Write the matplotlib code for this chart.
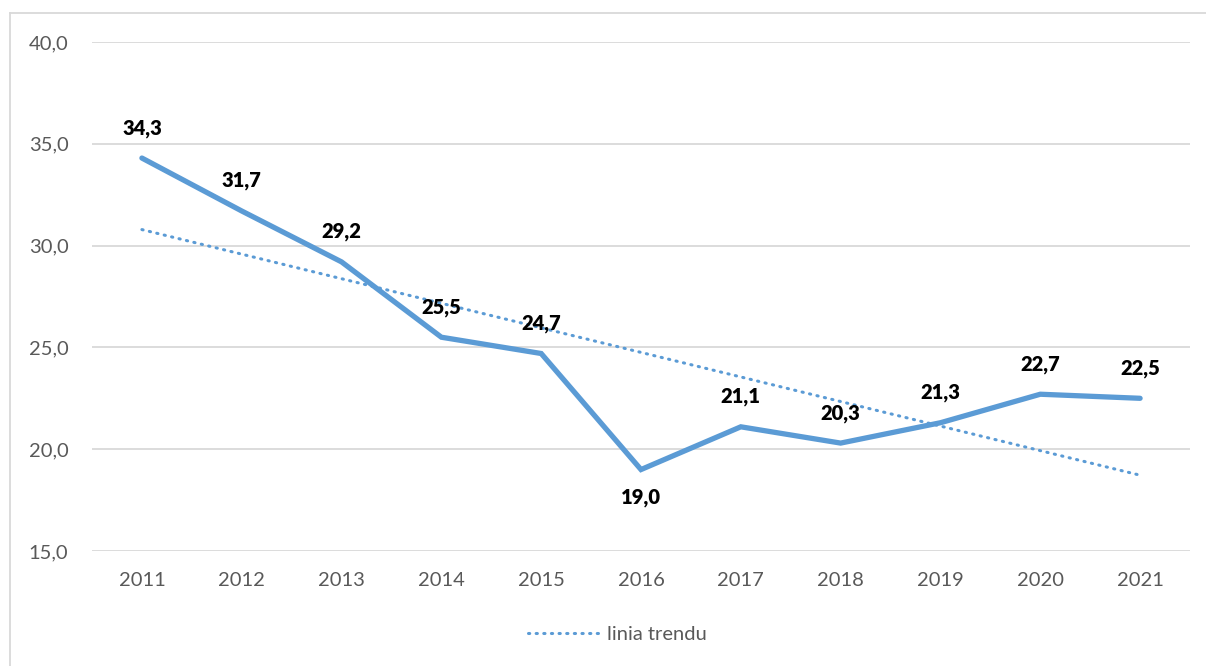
import numpy as np
import matplotlib
matplotlib.use("Agg")
import matplotlib.pyplot as plt
from matplotlib.lines import Line2D

plt.rcParams['font.family'] = ['Lato', 'DejaVu Sans']

years = [2011, 2012, 2013, 2014, 2015, 2016, 2017, 2018, 2019, 2020, 2021]
values = [34.3, 31.7, 29.2, 25.5, 24.7, 19.0, 21.1, 20.3, 21.3, 22.7, 22.5]
y_ticks = [15, 20, 25, 30, 35, 40]

line_color = '#5B9BD5'
grid_color = '#D9D9D9'
text_gray = '#595959'
dot_style = (0, (0.4, 2.1))

fig = plt.figure(figsize=(12.06, 6.66), dpi=100)
ax = fig.add_axes([92 / 1206, 1 - 551 / 666, (1190 - 92) / 1206, (551 - 42) / 666])

x = np.array(years)
y = np.array(values)

ax.plot(x, y, color=line_color, lw=3.8, solid_capstyle='round', solid_joinstyle='miter', zorder=3)

# linear trend fitted to the series
coef = np.polyfit(x, y, 1)
trend = np.polyval(coef, x)
ax.plot(x, trend, color=line_color, lw=2.2, linestyle=dot_style, dash_capstyle='round', zorder=2)

# value labels
for xi, yi in zip(x, y):
    below = yi == min(values)
    off = -28 if below else 30
    ax.annotate(f"{yi:.1f}".replace('.', ','), (xi, yi), xytext=(0, off * 0.72),
                textcoords='offset points', ha='center', va='center',
                fontsize=14.5, fontweight='heavy', color='black', zorder=4)

ax.set_xlim(2010.5, 2021.5)
ax.set_ylim(15, 40)
ax.set_xticks(years)
ax.set_xticklabels([str(v) for v in years])
ax.set_yticks(y_ticks)
ax.set_yticklabels([f"{v:.1f}".replace('.', ',') for v in y_ticks])
ax.tick_params(axis='both', length=0, labelsize=14.5, labelcolor=text_gray)
ax.tick_params(axis='y', pad=17)
ax.tick_params(axis='x', pad=15)
ax.grid(axis='y', color=grid_color, lw=1.3)
ax.set_axisbelow(True)
for s in ax.spines.values():
    s.set_visible(False)

handle = Line2D([], [], color=line_color, lw=2.2, linestyle=dot_style, dash_capstyle='round')
fig.legend([handle], ['linia trendu'], loc='center', bbox_to_anchor=(0.512, 1 - 634 / 666),
           frameon=False, fontsize=14.5, labelcolor=text_gray, handlelength=3.5, handletextpad=0.4)

# outer frame (top and left edges)
fig.add_artist(Line2D([10 / 1206, 10 / 1206], [0, 1 - 13 / 666], transform=fig.transFigure,
                      color=grid_color, lw=1.3))
fig.add_artist(Line2D([10 / 1206, 1], [1 - 13 / 666, 1 - 13 / 666], transform=fig.transFigure,
                      color=grid_color, lw=1.3))

fig.savefig('out.png', dpi=100)
